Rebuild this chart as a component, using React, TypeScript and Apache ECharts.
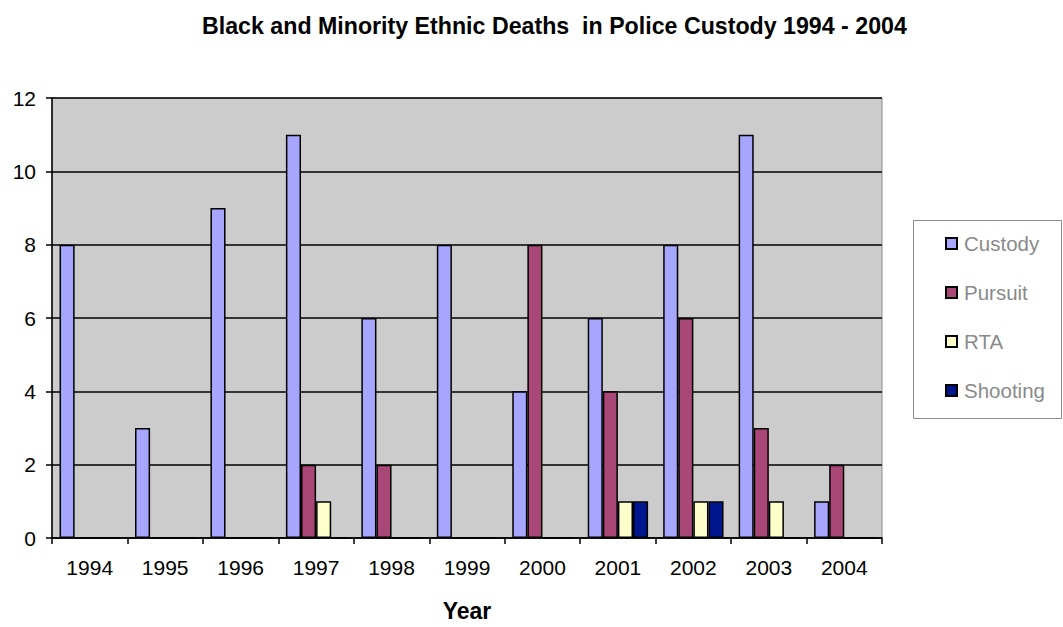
import React, { useEffect, useRef } from "react";
import * as echarts from "echarts";

const years = ["1994", "1995", "1996", "1997", "1998", "1999", "2000", "2001", "2002", "2003", "2004"];
const custody = [8, 3, 9, 11, 6, 8, 4, 6, 8, 11, 1];
const pursuit = [0, 0, 0, 2, 2, 0, 8, 4, 6, 3, 2];
const rta = [0, 0, 0, 1, 0, 0, 0, 1, 1, 1, 0];
const shooting = [0, 0, 0, 0, 0, 0, 0, 1, 1, 0, 0];

const seriesDefs = [
  { name: "Custody", data: custody, color: "#a6a6ff" },
  { name: "Pursuit", data: pursuit, color: "#a94777" },
  { name: "RTA", data: rta, color: "#ffffcc" },
  { name: "Shooting", data: shooting, color: "#00168f" },
];

const FONT = "'Liberation Sans', Arial, sans-serif";

export default function App() {
  const ref = useRef<HTMLDivElement>(null);

  useEffect(() => {
    if (!ref.current) return;
    const chart = echarts.init(ref.current, undefined, { renderer: "svg" });
    chart.setOption({
      animation: false,
      backgroundColor: "#ffffff",
      title: {
        text: "Black and Minority Ethnic Deaths  in Police Custody 1994 - 2004",
        left: 197,
        top: 9,
        textStyle: {
          fontFamily: FONT,
          fontWeight: "bold",
          fontSize: 23.2,
          color: "#000",
        },
      },
      graphic: [
        {
          type: "rect",
          shape: { x: 913.5, y: 220.5, width: 148, height: 198 },
          style: { fill: "#ffffff", stroke: "#8c8c8c", lineWidth: 1 },
          z: 0,
        },
      ],
      legend: {
        orient: "vertical",
        left: 940,
        top: 228,
        itemWidth: 11,
        itemHeight: 11,
        itemGap: 28,
        icon: "rect",
        textStyle: { fontFamily: FONT, fontSize: 20.5, color: "#8a8a8a", padding: [0, 0, 0, 2] },
        z: 5,
      },
      grid: {
        left: 52,
        right: 181,
        top: 98,
        bottom: 87,
        show: true,
        backgroundColor: "#cccccc",
        borderColor: "#8c8c8c",
        borderWidth: 1,
      },
      xAxis: {
        type: "category",
        data: years,
        name: "Year",
        nameLocation: "middle",
        nameGap: 61,
        nameTextStyle: { fontFamily: FONT, fontWeight: "bold", fontSize: 23, color: "#000" },
        axisLine: { lineStyle: { color: "#000", width: 1.5 } },
        axisTick: { show: true, length: 6, lineStyle: { color: "#000", width: 1.5 } },
        axisLabel: { fontFamily: FONT, fontSize: 21, color: "#000", margin: 19 },
        splitLine: { show: false },
      },
      yAxis: {
        type: "value",
        min: 0,
        max: 12,
        interval: 2,
        axisLine: { show: true, lineStyle: { color: "#000", width: 1.5 } },
        axisTick: { show: true, length: 6, lineStyle: { color: "#000", width: 1.5 } },
        axisLabel: { fontFamily: FONT, fontSize: 21, color: "#000", margin: 16 },
        splitLine: { show: true, lineStyle: { color: "#000", width: 1.5 } },
      },
      series: seriesDefs.map((s) => ({
        name: s.name,
        type: "bar",
        data: s.data,
        barGap: "0%",
        barCategoryGap: "20%",
        itemStyle: { color: s.color, borderColor: "#000", borderWidth: 1.5 },
      })),
    });
    return () => chart.dispose();
  }, []);

  return (
    <div
      ref={ref}
      style={{ position: "absolute", left: 0, top: 0, width: 1063, height: 627 }}
    />
  );
}
